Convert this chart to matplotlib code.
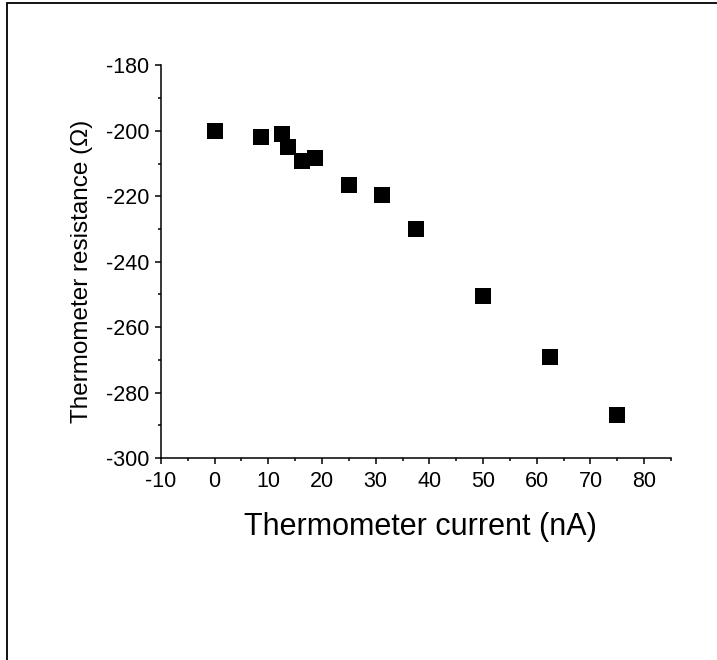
import numpy as np
import matplotlib
matplotlib.use("Agg")
import matplotlib.pyplot as plt
from matplotlib.patches import Rectangle
from matplotlib.ticker import MultipleLocator

plt.rcParams['font.family'] = ['Liberation Sans', 'DejaVu Sans']
plt.rcParams['axes.unicode_minus'] = False

# thermometer current (nA) and measured resistance (Ohm)
current = [0, 8.7, 12.5, 13.7, 16.2, 18.75, 25, 31.25, 37.5, 50, 62.5, 75]
resistance = [-200.1, -201.8, -200.8, -204.9, -209.1, -208.4, -216.4,
              -219.6, -230.0, -250.4, -269.1, -286.9]

fig = plt.figure(figsize=(7.17, 6.6), dpi=100)
ax = fig.add_axes([0.2245, 0.3061, 0.7113, 0.5947])

ax.plot(current, resistance, linestyle='none', marker='s', markersize=11.9,
        color='black', markeredgewidth=0)

ax.set_xlim(-10, 85)
ax.set_ylim(-300, -180)
ax.xaxis.set_major_locator(MultipleLocator(10))
ax.xaxis.set_minor_locator(MultipleLocator(5))
ax.yaxis.set_major_locator(MultipleLocator(20))
ax.yaxis.set_minor_locator(MultipleLocator(10))

for side in ['top', 'right']:
    ax.spines[side].set_visible(False)
for side in ['left', 'bottom']:
    ax.spines[side].set_linewidth(1.1)

ax.tick_params(which='major', direction='out', length=4.6, width=1.1,
               labelsize=15.5, pad=4)
ax.tick_params(axis='x', which='major', pad=4.5)
ax.tick_params(which='minor', direction='out', length=2.4, width=1.1)

ax.set_xlabel('Thermometer current (nA)', fontsize=22)
ax.set_ylabel('Thermometer resistance (Ω)', fontsize=17.5)
ax.xaxis.set_label_coords(0.509, -0.138)
ax.yaxis.set_label_coords(-0.134, 0.475)

# outer frame around the figure
fig.patches.append(Rectangle((7 / 717, -0.1), 2, 1.1 - 3 / 660,
                             transform=fig.transFigure, fill=False,
                             edgecolor='black', linewidth=1.3, clip_on=False))

fig.savefig('out.png', dpi=100)
